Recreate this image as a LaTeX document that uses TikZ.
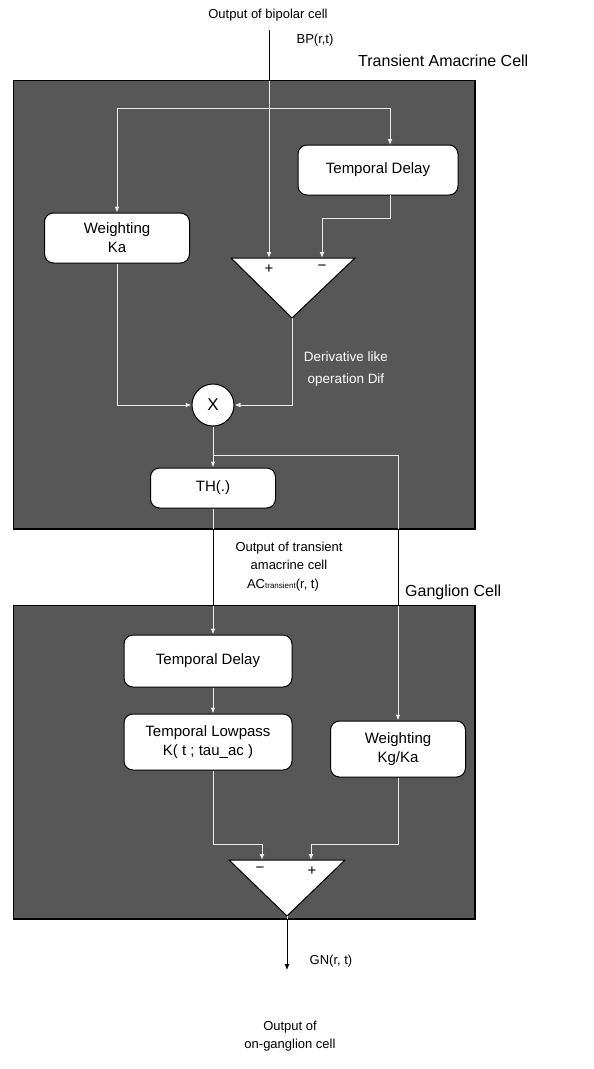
\documentclass[tikz,border=0pt]{standalone}
\usepackage{fontspec}
\setmainfont{Liberation Sans}
\usetikzlibrary{arrows.meta}
\definecolor{panel}{gray}{0.34}
\definecolor{inner}{gray}{0.92}
\tikzset{
  blk/.style={draw=black, line width=1pt, fill=white, rounded corners=9pt, align=center,
    font=\fontsize{15}{19}\selectfont, inner sep=0pt},
  conn/.style={line width=0.8pt, -{Latex[length=6pt,width=5pt]}},
  lbl/.style={font=\fontsize{13}{18}\selectfont, align=center, inner sep=0pt},
  ttl/.style={font=\fontsize{16}{20}\selectfont, inner sep=0pt},
  sgn/.style={font=\fontsize{15}{15}\selectfont, inner sep=0pt},
  panelbox/.style={fill=panel, draw=black, line width=1pt, inner sep=0pt, anchor=north west},
  tri/.style={fill=white, draw=black, line width=1pt},
}
\newcommand\allconns{%
  \draw[conn] (bpTop) -- (t1p);
  \draw[conn] (j1) -| (wKa.north);
  \draw[conn] (j1) -| (td1in);
  \draw[conn] (td1out) -- ++(0,23) -| (t1m);
  \draw[conn] (wKa.south) |- (mul.west);
  \draw[conn] (t1o) |- (mul.east);
  \draw[conn] (mul.south) -- (th.north);
  \draw[conn] (j2) -| (wKg.north);
  \draw[conn] (th.south) -- (th.south |- td2.north);
  \draw[conn] (th.south |- td2.south) -- (th.south |- lp.north);
  \draw[conn] (th.south |- lp.south) -- ++(0,74) -| (t2m);
  \draw[conn] (wKg.south) -- ++(0,67) -| (t2p);
  \draw[conn] (t2o) -- (gnEnd);
}
\begin{document}
\begin{tikzpicture}[x=1pt,y=-1pt]
\useasboundingbox (0,0) rectangle (594,1069);
\fill[white] (0,0) rectangle (594,1069);

% panels
\node[panelbox, minimum width=461pt, minimum height=448pt] (amac) at (13,80) {};
\node[panelbox, minimum width=461pt, minimum height=313pt] (gang) at (13,605) {};

% blocks
\node[blk, minimum width=160pt, minimum height=50pt] (td1) at (378,170) {Temporal Delay};
\node[blk, minimum width=145pt, minimum height=50pt] (wKa) at (117,238) {Weighting\\Ka};
\node[circle, draw=black, line width=1pt, fill=white, minimum size=42pt, inner sep=0pt,
      font=\fontsize{17}{17}\selectfont] (mul) at (213,405) {X};
\node[blk, minimum width=125pt, minimum height=40pt] (th) at (213,488) {TH(.)};
\node[blk, minimum width=168pt, minimum height=52pt] (td2) at (208,661) {Temporal Delay};
\node[blk, minimum width=168pt, minimum height=56pt] (lp) at (208,742) {Temporal Lowpass\\K( t ; tau\_ac )};
\node[blk, minimum width=135pt, minimum height=56pt] (wKg) at (398,749) {Weighting\\Kg/Ka};

% triangles
\coordinate (t1a) at (231,258); \coordinate (t1b) at (355,258); \coordinate (t1o) at (292,318);
\coordinate (t2a) at (229,860); \coordinate (t2b) at (345,860); \coordinate (t2o) at (287,916);
\draw[tri] (t1a) -- (t1b) -- (t1o) -- cycle;
\draw[tri] (t2a) -- (t2b) -- (t2o) -- cycle;
\coordinate (t1p) at (269,258); \coordinate (t1m) at (322,258);
\coordinate (t2m) at (262,860); \coordinate (t2p) at (311,860);
\node[sgn] (s1p) at (269,269) {+};
\node[sgn] (s1m) at (322,268) {−};
\node[sgn] (s2m) at (260,870) {−};
\node[sgn] (s2p) at (312,871) {+};

% connector points
\coordinate (bpTop) at (269,30);
\coordinate (j1) at (269,108);
\coordinate (td1in) at (390,145);
\coordinate (td1out) at (390,195);
\coordinate (j2) at (213,455);
\coordinate (gnEnd) at (287,970);

% connectors: black outside, light inside the panels
\allconns
\begin{scope}[color=inner]
  \clip (amac.north west) rectangle (amac.south east)
        (gang.north west) rectangle (gang.south east);
  \allconns
\end{scope}
\draw[black, line width=1pt] (amac.north west) rectangle (amac.south east);
\draw[black, line width=1pt] (gang.north west) rectangle (gang.south east);

% texts
\node[lbl] (out1) at (268,15) {Output of bipolar cell};
\node[lbl] (bp) at (315,40) {BP(r,t)};
\node[ttl, anchor=west] (ttl1) at (358,61) {Transient Amacrine Cell};
\node[lbl, text=white, font=\fontsize{13.5}{22}\selectfont] (deriv) at (346,369) {Derivative like\\operation Dif};
\node[lbl] (out2) at (289,556) {Output of transient\\amacrine cell};
\node[lbl] (out2b) at (283,585) {AC{\fontsize{8}{8}\selectfont transient}(r, t)};
\node[ttl, anchor=west] (ttl2) at (405,592) {Ganglion Cell};
\node[lbl] (gn) at (331,961) {GN(r, t)};
\node[lbl] (out3) at (290,1036) {Output of\\on-ganglion cell};
\end{tikzpicture}
\end{document}
